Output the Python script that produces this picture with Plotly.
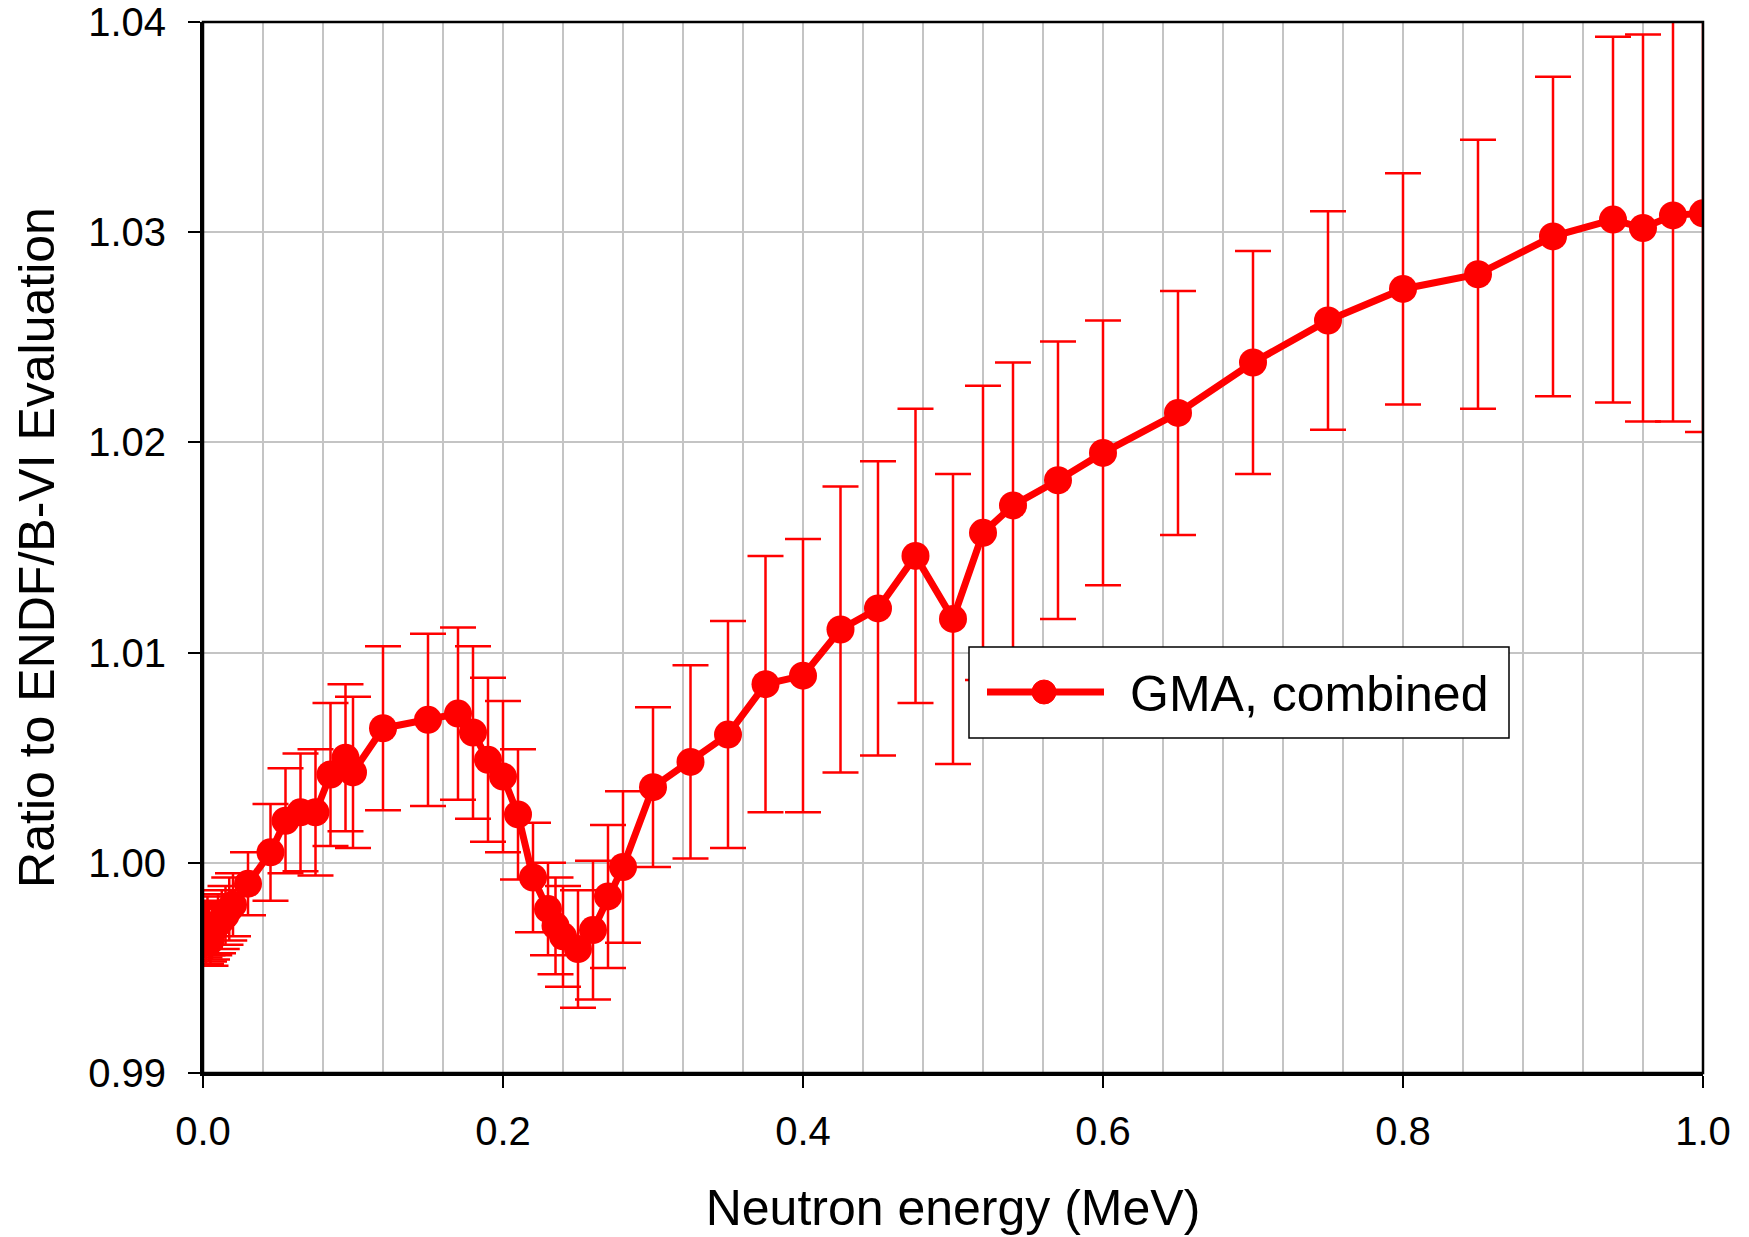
import plotly.graph_objects as go

energy = [0.001, 0.002, 0.003, 0.004, 0.005, 0.006, 0.0075, 0.01, 0.0125, 0.015, 0.0175, 0.02,
          0.03, 0.045, 0.055, 0.065, 0.075, 0.085, 0.095, 0.10, 0.12, 0.15, 0.17, 0.18, 0.19,
          0.20, 0.21, 0.22, 0.23, 0.235, 0.24, 0.25, 0.26, 0.27, 0.28, 0.30, 0.325, 0.35,
          0.375, 0.40, 0.425, 0.45, 0.475, 0.50, 0.52, 0.54, 0.57, 0.60, 0.65, 0.70, 0.75,
          0.80, 0.85, 0.90, 0.94, 0.96, 0.98, 1.00]
ratio = [0.9968, 0.9965, 0.9970, 0.9966, 0.9963, 0.9967, 0.9969, 0.9971, 0.9973, 0.9975, 0.9978, 0.9980,
         0.9990, 1.0005, 1.0020, 1.0024, 1.0024, 1.0042, 1.0050, 1.0043, 1.0064, 1.0068, 1.0071, 1.0062, 1.0049,
         1.0041, 1.0023, 0.9993, 0.9978, 0.9970, 0.9965, 0.9959, 0.9968, 0.9984, 0.9998, 1.0036, 1.0048, 1.0061,
         1.0085, 1.0089, 1.0111, 1.0121, 1.0146, 1.0116, 1.0157, 1.0170, 1.0182, 1.0195, 1.0214, 1.0238, 1.0258,
         1.0273, 1.0280, 1.0298, 1.0306, 1.0302, 1.0308, 1.0309]
uncert = [0.0013, 0.0013, 0.0014, 0.0013, 0.0012, 0.0013, 0.0013, 0.0014, 0.0014, 0.0014, 0.0015, 0.0015,
          0.0015, 0.0023, 0.0025, 0.0028, 0.0030, 0.0034, 0.0035, 0.0036, 0.0039, 0.0041, 0.0041, 0.0041, 0.0039,
          0.0036, 0.0031, 0.0026, 0.0022, 0.0023, 0.0024, 0.0028, 0.0033, 0.0034, 0.0036, 0.0038, 0.0046, 0.0054,
          0.0061, 0.0065, 0.0068, 0.0070, 0.0070, 0.0069, 0.0070, 0.0068, 0.0066, 0.0063, 0.0058, 0.0053, 0.0052,
          0.0055, 0.0064, 0.0076, 0.0087, 0.0092, 0.0098, 0.0104]
series_name = "GMA, combined"

y_ticks = [0.99, 1.00, 1.01, 1.02, 1.03, 1.04]
y_ticklabels = ["0.99", "1.00", "1.01", "1.02", "1.03", "1.04"]
x_ticks = [0.0, 0.2, 0.4, 0.6, 0.8, 1.0]
x_ticklabels = ["0.0", "0.2", "0.4", "0.6", "0.8", "1.0"]

RED = "#ff0000"
FONT = "Liberation Sans, Arial, sans-serif"
OFF = 8  # page body margin
W, H = 1749 - OFF, 1237 - OFF
ML, MT = 203 - OFF, 22 - OFF
PW, PH = 1500, 1051
MR, MB = W - ML - PW, H - MT - PH


def px_x(p):
    return (p - OFF - ML) / PW


def px_y(p):
    return 1 - (p - OFF - MT) / PH


fig = go.Figure()
fig.add_trace(go.Scatter(
    x=energy, y=ratio, mode="lines+markers", name=series_name,
    line=dict(color=RED, width=7),
    marker=dict(color=RED, size=28),
    error_y=dict(type="data", array=uncert, visible=True, color=RED, thickness=2.5, width=18),
    cliponaxis=True, showlegend=False,
))

fig.update_layout(
    width=W, height=H,
    margin=dict(l=ML, r=MR, t=MT, b=MB, autoexpand=False),
    paper_bgcolor="white", plot_bgcolor="white",
    font=dict(family=FONT, color="black"),
    showlegend=False,
    xaxis=dict(
        range=[0, 1], tickvals=x_ticks, ticktext=x_ticklabels,
        ticks="outside", ticklen=12, tickwidth=2, tickcolor="black",
        ticklabelstandoff=9, ticklabeloverflow="allow",
        showgrid=True, gridcolor="#c4c4c4", gridwidth=1.5,
        minor=dict(dtick=0.04, tick0=0, showgrid=True, gridcolor="#c4c4c4", gridwidth=1.5, ticks=""),
        showline=True, linecolor="black", linewidth=3, mirror=False,
        tickfont=dict(size=40, family=FONT),
        title=dict(text="Neutron energy (MeV)", font=dict(size=50, family=FONT), standoff=38),
        zeroline=False, automargin=False,
    ),
    yaxis=dict(
        range=[0.99, 1.04], tickvals=y_ticks, ticktext=y_ticklabels,
        ticks="outside", ticklen=12, tickwidth=2, tickcolor="black",
        ticklabelstandoff=14, ticklabeloverflow="allow",
        showgrid=True, gridcolor="#c4c4c4", gridwidth=1.5,
        showline=True, linecolor="black", linewidth=3, mirror=False,
        tickfont=dict(size=40, family=FONT),
        title=dict(text="Ratio to ENDF/B-VI Evaluation", font=dict(size=50, family=FONT), standoff=18),
        zeroline=False, automargin=False,
    ),
)

fig.add_shape(type="rect", xref="paper", yref="paper", x0=0, y0=0, x1=1, y1=1,
              line=dict(color="black", width=2.5), layer="above")

# custom legend box
fig.add_shape(type="rect", xref="paper", yref="paper",
              x0=px_x(969), x1=px_x(1509), y0=px_y(738), y1=px_y(647),
              line=dict(color="black", width=1.5), fillcolor="white", layer="above")
fig.add_shape(type="line", xref="paper", yref="paper",
              x0=px_x(987), x1=px_x(1104), y0=px_y(692), y1=px_y(692),
              line=dict(color=RED, width=7), layer="above")
fig.add_shape(type="circle", xref="paper", yref="paper",
              x0=px_x(1032), x1=px_x(1056), y0=px_y(704), y1=px_y(680),
              line=dict(color=RED, width=1), fillcolor=RED, layer="above")
fig.add_annotation(text=series_name, xref="paper", yref="paper",
                   x=px_x(1128), y=px_y(694), xanchor="left", yanchor="middle",
                   showarrow=False, font=dict(size=50, family=FONT, color="black"))

fig.write_html("out.html")
